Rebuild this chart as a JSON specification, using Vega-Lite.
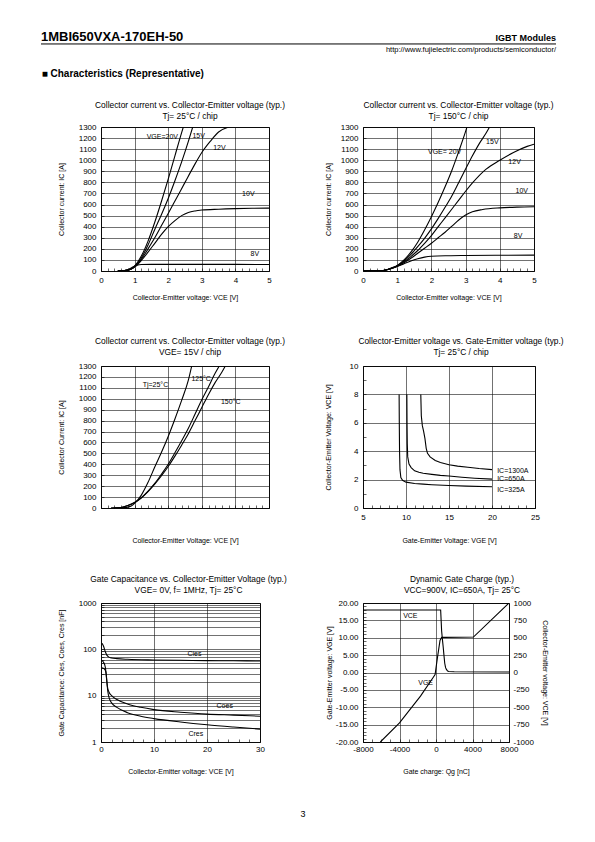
{
  "$schema": "https://vega.github.io/schema/vega-lite/v6.json",
  "padding": {"left": 40, "top": 28, "right": 0, "bottom": 0},
  "autosize": {"type": "pad"},
  "config": {
    "font": "Liberation Sans",
    "view": {"stroke": "#000", "strokeWidth": 1},
    "axis": {"domain": false, "labelFont": "Liberation Sans", "labelFontSize": 8, "labelColor": "#000", "titleFont": "Liberation Sans", "titleFontSize": 7, "titleFontWeight": "normal", "titleColor": "#000", "gridColor": "#111", "gridWidth": 0.6, "tickColor": "#000", "tickSize": -3, "tickWidth": 0.6, "labelFlush": false, "labelOverlap": false, "labelPadding": 8},
    "axisX": {"titlePadding": 9},
    "axisY": {"titlePadding": 14},
    "title": {"font": "Liberation Sans", "fontSize": 8.4, "fontWeight": "normal", "color": "#000", "lineHeight": 11},
    "line": {"color": "#000", "strokeWidth": 1.1},
    "text": {"font": "Liberation Sans", "fontSize": 7, "color": "#000"}
  },
  "title": {"text": "3", "orient": "bottom", "anchor": "middle", "frame": "bounds", "offset": 35, "fontSize": 9},
  "spacing": 13,
  "datasets": {
    "p1": [
      {"s":"20V","x":0.5,"y":0},{"s":"20V","x":0.7,"y":3},{"s":"20V","x":0.9,"y":20},{"s":"20V","x":1.0,"y":45},{"s":"20V","x":1.2,"y":135},{"s":"20V","x":1.4,"y":270},{"s":"20V","x":1.6,"y":440},{"s":"20V","x":1.8,"y":630},{"s":"20V","x":2.0,"y":830},{"s":"20V","x":2.2,"y":1040},{"s":"20V","x":2.4,"y":1250},{"s":"20V","x":2.45,"y":1300},
      {"s":"15V","x":0.5,"y":0},{"s":"15V","x":0.7,"y":3},{"s":"15V","x":0.9,"y":18},{"s":"15V","x":1.0,"y":42},{"s":"15V","x":1.2,"y":118},{"s":"15V","x":1.4,"y":235},{"s":"15V","x":1.6,"y":375},{"s":"15V","x":1.8,"y":510},{"s":"15V","x":2.0,"y":655},{"s":"15V","x":2.2,"y":815},{"s":"15V","x":2.4,"y":985},{"s":"15V","x":2.6,"y":1170},{"s":"15V","x":2.73,"y":1300},
      {"s":"12V","x":0.5,"y":0},{"s":"12V","x":0.7,"y":3},{"s":"12V","x":0.9,"y":18},{"s":"12V","x":1.0,"y":38},{"s":"12V","x":1.2,"y":105},{"s":"12V","x":1.4,"y":200},{"s":"12V","x":1.6,"y":300},{"s":"12V","x":1.8,"y":410},{"s":"12V","x":2.0,"y":520},{"s":"12V","x":2.25,"y":660},{"s":"12V","x":2.5,"y":800},{"s":"12V","x":2.75,"y":940},{"s":"12V","x":3.0,"y":1070},{"s":"12V","x":3.25,"y":1170},{"s":"12V","x":3.5,"y":1255},{"s":"12V","x":3.8,"y":1300},
      {"s":"10V","x":0.5,"y":0},{"s":"10V","x":0.7,"y":3},{"s":"10V","x":0.9,"y":17},{"s":"10V","x":1.0,"y":35},{"s":"10V","x":1.2,"y":95},{"s":"10V","x":1.4,"y":170},{"s":"10V","x":1.6,"y":250},{"s":"10V","x":1.8,"y":330},{"s":"10V","x":2.0,"y":400},{"s":"10V","x":2.2,"y":455},{"s":"10V","x":2.4,"y":500},{"s":"10V","x":2.6,"y":528},{"s":"10V","x":2.8,"y":542},{"s":"10V","x":3.0,"y":550},{"s":"10V","x":3.5,"y":558},{"s":"10V","x":4.0,"y":563},{"s":"10V","x":4.5,"y":566},{"s":"10V","x":5.0,"y":568},
      {"s":"8V","x":0.5,"y":0},{"s":"8V","x":0.7,"y":5},{"s":"8V","x":0.9,"y":28},{"s":"8V","x":1.0,"y":45},{"s":"8V","x":1.1,"y":55},{"s":"8V","x":1.2,"y":58},{"s":"8V","x":1.5,"y":60},{"s":"8V","x":2.0,"y":60},{"s":"8V","x":3.0,"y":60},{"s":"8V","x":4.0,"y":60},{"s":"8V","x":5.0,"y":58}
    ],
    "p1lab": [
      {"t":"VGE=20V","x":1.36,"y":1207},{"t":"15V","x":2.72,"y":1219},{"t":"12V","x":3.34,"y":1113},{"t":"10V","x":4.2,"y":696},{"t":"8V","x":4.45,"y":154}
    ],
    "p2": [
      {"s":"20V","x":0,"y":0},{"s":"20V","x":0.5,"y":3},{"s":"20V","x":0.7,"y":12},{"s":"20V","x":0.9,"y":35},{"s":"20V","x":1.0,"y":50},{"s":"20V","x":1.2,"y":100},{"s":"20V","x":1.4,"y":170},{"s":"20V","x":1.6,"y":260},{"s":"20V","x":1.8,"y":370},{"s":"20V","x":2.0,"y":490},{"s":"20V","x":2.2,"y":620},{"s":"20V","x":2.4,"y":760},{"s":"20V","x":2.6,"y":910},{"s":"20V","x":2.8,"y":1080},{"s":"20V","x":3.0,"y":1260},{"s":"20V","x":3.04,"y":1300},
      {"s":"15V","x":0,"y":0},{"s":"15V","x":0.5,"y":3},{"s":"15V","x":0.7,"y":12},{"s":"15V","x":0.9,"y":33},{"s":"15V","x":1.0,"y":48},{"s":"15V","x":1.2,"y":90},{"s":"15V","x":1.4,"y":150},{"s":"15V","x":1.6,"y":220},{"s":"15V","x":1.8,"y":295},{"s":"15V","x":2.0,"y":380},{"s":"15V","x":2.2,"y":475},{"s":"15V","x":2.4,"y":575},{"s":"15V","x":2.6,"y":680},{"s":"15V","x":2.8,"y":800},{"s":"15V","x":3.0,"y":920},{"s":"15V","x":3.2,"y":1040},{"s":"15V","x":3.4,"y":1150},{"s":"15V","x":3.6,"y":1245},{"s":"15V","x":3.7,"y":1300},
      {"s":"12V","x":0,"y":0},{"s":"12V","x":0.5,"y":3},{"s":"12V","x":0.7,"y":12},{"s":"12V","x":0.9,"y":32},{"s":"12V","x":1.0,"y":45},{"s":"12V","x":1.2,"y":82},{"s":"12V","x":1.4,"y":130},{"s":"12V","x":1.6,"y":185},{"s":"12V","x":1.8,"y":250},{"s":"12V","x":2.0,"y":320},{"s":"12V","x":2.2,"y":400},{"s":"12V","x":2.4,"y":480},{"s":"12V","x":2.6,"y":560},{"s":"12V","x":2.8,"y":640},{"s":"12V","x":3.0,"y":720},{"s":"12V","x":3.2,"y":795},{"s":"12V","x":3.6,"y":920},{"s":"12V","x":4.0,"y":1000},{"s":"12V","x":4.4,"y":1070},{"s":"12V","x":4.8,"y":1125},{"s":"12V","x":5.0,"y":1145},
      {"s":"10V","x":0,"y":0},{"s":"10V","x":0.5,"y":3},{"s":"10V","x":0.7,"y":12},{"s":"10V","x":0.9,"y":30},{"s":"10V","x":1.0,"y":42},{"s":"10V","x":1.2,"y":75},{"s":"10V","x":1.4,"y":115},{"s":"10V","x":1.6,"y":160},{"s":"10V","x":1.8,"y":205},{"s":"10V","x":2.0,"y":250},{"s":"10V","x":2.2,"y":300},{"s":"10V","x":2.4,"y":350},{"s":"10V","x":2.6,"y":405},{"s":"10V","x":2.8,"y":460},{"s":"10V","x":3.0,"y":505},{"s":"10V","x":3.2,"y":535},{"s":"10V","x":3.5,"y":555},{"s":"10V","x":4.0,"y":570},{"s":"10V","x":4.5,"y":577},{"s":"10V","x":5.0,"y":580},
      {"s":"8V","x":0,"y":0},{"s":"8V","x":0.5,"y":3},{"s":"8V","x":0.7,"y":12},{"s":"8V","x":0.9,"y":30},{"s":"8V","x":1.0,"y":40},{"s":"8V","x":1.2,"y":65},{"s":"8V","x":1.4,"y":90},{"s":"8V","x":1.6,"y":110},{"s":"8V","x":1.8,"y":125},{"s":"8V","x":2.0,"y":133},{"s":"8V","x":2.5,"y":138},{"s":"8V","x":3.0,"y":140},{"s":"8V","x":4.0,"y":142},{"s":"8V","x":5.0,"y":143}
    ],
    "p2lab": [
      {"t":"VGE= 20V","x":1.9,"y":1076},{"t":"15V","x":3.6,"y":1168},{"t":"12V","x":4.25,"y":983},{"t":"10V","x":4.46,"y":722},{"t":"8V","x":4.41,"y":313}
    ],
    "p3": [
      {"s":"25","x":0.4,"y":0},{"s":"25","x":0.7,"y":3},{"s":"25","x":0.9,"y":18},{"s":"25","x":1.0,"y":42},{"s":"25","x":1.2,"y":118},{"s":"25","x":1.4,"y":235},{"s":"25","x":1.6,"y":375},{"s":"25","x":1.8,"y":510},{"s":"25","x":2.0,"y":655},{"s":"25","x":2.2,"y":815},{"s":"25","x":2.4,"y":985},{"s":"25","x":2.6,"y":1170},{"s":"25","x":2.7,"y":1300},
      {"s":"125","x":0.3,"y":0},{"s":"125","x":0.6,"y":5},{"s":"125","x":0.8,"y":22},{"s":"125","x":1.0,"y":50},{"s":"125","x":1.2,"y":95},{"s":"125","x":1.4,"y":155},{"s":"125","x":1.6,"y":225},{"s":"125","x":1.8,"y":310},{"s":"125","x":2.0,"y":400},{"s":"125","x":2.2,"y":505},{"s":"125","x":2.4,"y":615},{"s":"125","x":2.6,"y":730},{"s":"125","x":2.8,"y":860},{"s":"125","x":3.0,"y":990},{"s":"125","x":3.2,"y":1110},{"s":"125","x":3.4,"y":1235},{"s":"125","x":3.52,"y":1300},
      {"s":"150","x":0.3,"y":0},{"s":"150","x":0.6,"y":5},{"s":"150","x":0.8,"y":22},{"s":"150","x":1.0,"y":50},{"s":"150","x":1.2,"y":92},{"s":"150","x":1.4,"y":150},{"s":"150","x":1.6,"y":218},{"s":"150","x":1.8,"y":295},{"s":"150","x":2.0,"y":380},{"s":"150","x":2.2,"y":475},{"s":"150","x":2.4,"y":575},{"s":"150","x":2.6,"y":680},{"s":"150","x":2.8,"y":800},{"s":"150","x":3.0,"y":920},{"s":"150","x":3.2,"y":1040},{"s":"150","x":3.4,"y":1150},{"s":"150","x":3.6,"y":1245},{"s":"150","x":3.7,"y":1300}
    ],
    "p3lab": [
      {"t":"Tj=25°C","x":1.24,"y":1124},{"t":"125°C","x":2.69,"y":1179},{"t":"150°C","x":3.57,"y":967}
    ],
    "p4": [
      {"s":"1300","x":11.72,"y":8},{"s":"1300","x":11.78,"y":6.5},{"s":"1300","x":11.9,"y":5.8},{"s":"1300","x":12.05,"y":5.4},{"s":"1300","x":12.2,"y":4.9},{"s":"1300","x":12.35,"y":4.2},{"s":"1300","x":12.5,"y":3.85},{"s":"1300","x":12.8,"y":3.6},{"s":"1300","x":13.4,"y":3.35},{"s":"1300","x":14,"y":3.2},{"s":"1300","x":15,"y":3.05},{"s":"1300","x":16,"y":2.95},{"s":"1300","x":17.2,"y":2.87},{"s":"1300","x":18.5,"y":2.78},{"s":"1300","x":20,"y":2.7},
      {"s":"650","x":10.1,"y":8},{"s":"650","x":10.12,"y":6},{"s":"650","x":10.15,"y":4.5},{"s":"650","x":10.2,"y":3.6},{"s":"650","x":10.35,"y":3.1},{"s":"650","x":10.6,"y":2.85},{"s":"650","x":11,"y":2.62},{"s":"650","x":11.5,"y":2.52},{"s":"650","x":12,"y":2.45},{"s":"650","x":13,"y":2.37},{"s":"650","x":14,"y":2.3},{"s":"650","x":15,"y":2.25},{"s":"650","x":16.5,"y":2.17},{"s":"650","x":18,"y":2.1},{"s":"650","x":20,"y":2.03},
      {"s":"325","x":9.2,"y":8},{"s":"325","x":9.22,"y":6},{"s":"325","x":9.25,"y":4},{"s":"325","x":9.3,"y":2.7},{"s":"325","x":9.4,"y":2.15},{"s":"325","x":9.6,"y":1.95},{"s":"325","x":10,"y":1.82},{"s":"325","x":11,"y":1.73},{"s":"325","x":12,"y":1.68},{"s":"325","x":13,"y":1.64},{"s":"325","x":15,"y":1.58},{"s":"325","x":17,"y":1.54},{"s":"325","x":20,"y":1.5}
    ],
    "p4lab": [
      {"t":"IC=1300A","x":20.6,"y":2.63},{"t":"IC=650A","x":20.6,"y":2.07},{"t":"IC=325A","x":20.6,"y":1.24}
    ],
    "p5": [
      {"s":"Cies","x":0.2,"y":135},{"s":"Cies","x":0.5,"y":115},{"s":"Cies","x":0.8,"y":90},{"s":"Cies","x":1.1,"y":75},{"s":"Cies","x":1.5,"y":68},{"s":"Cies","x":2,"y":65},{"s":"Cies","x":3,"y":63},{"s":"Cies","x":5,"y":61},{"s":"Cies","x":10,"y":59},{"s":"Cies","x":15,"y":58},{"s":"Cies","x":20,"y":57},{"s":"Cies","x":25,"y":56.5},{"s":"Cies","x":30,"y":56},
      {"s":"Coes","x":0.2,"y":58},{"s":"Coes","x":0.5,"y":52},{"s":"Coes","x":0.8,"y":42},{"s":"Coes","x":1.0,"y":28},{"s":"Coes","x":1.2,"y":16},{"s":"Coes","x":1.5,"y":12},{"s":"Coes","x":2,"y":10},{"s":"Coes","x":3,"y":8.3},{"s":"Coes","x":5,"y":6.6},{"s":"Coes","x":7.5,"y":5.6},{"s":"Coes","x":10,"y":5.0},{"s":"Coes","x":15,"y":4.4},{"s":"Coes","x":20,"y":4.0},{"s":"Coes","x":25,"y":3.8},{"s":"Coes","x":30,"y":3.6},
      {"s":"Cres","x":0.2,"y":40},{"s":"Cres","x":0.6,"y":38},{"s":"Cres","x":0.9,"y":33},{"s":"Cres","x":1.1,"y":20},{"s":"Cres","x":1.3,"y":12},{"s":"Cres","x":1.6,"y":8.5},{"s":"Cres","x":2,"y":7},{"s":"Cres","x":3,"y":5.6},{"s":"Cres","x":5,"y":4.3},{"s":"Cres","x":7.5,"y":3.6},{"s":"Cres","x":10,"y":3.2},{"s":"Cres","x":15,"y":2.7},{"s":"Cres","x":20,"y":2.35},{"s":"Cres","x":25,"y":2.1},{"s":"Cres","x":30,"y":1.9}
    ],
    "p5lab": [
      {"t":"Cies","x":16.3,"y":80},{"t":"Coes","x":21.8,"y":6.1},{"t":"Cres","x":16.5,"y":1.5}
    ],
    "p6vge": [
      {"x":-6100,"y":-20},{"x":-4000,"y":-14.5},{"x":-1700,"y":-6.8},{"x":-350,"y":-1.6},{"x":-100,"y":-0.6},{"x":170,"y":4.5},{"x":440,"y":9.2},{"x":620,"y":10.1},{"x":1000,"y":10.1},{"x":4100,"y":10.2},{"x":8000,"y":20}
    ],
    "p6vce": [
      {"x":-8000,"y":900},{"x":510,"y":900},{"x":615,"y":600},{"x":700,"y":480},{"x":786,"y":370},{"x":870,"y":250},{"x":957,"y":133},{"x":1050,"y":70},{"x":1128,"y":48},{"x":1250,"y":24},{"x":1367,"y":15},{"x":2000,"y":10},{"x":8000,"y":8}
    ],
    "p6lab": [
      {"t":"VCE","x":-3600,"y":16.2},{"t":"VGE","x":-1950,"y":-2.9}
    ]
  },
  "vconcat": [
    {
      "width": 455,
      "height": 28,
      "view": {"stroke": null},
      "layer": [
        {
          "data": {"values": [{"t": "1MBI650VXA-170EH-50"}]},
          "mark": {"type": "text", "align": "left", "baseline": "alphabetic", "fontSize": 13, "fontWeight": "bold"},
          "encoding": {
            "text": {"field": "t"},
            "x": {"datum": 0, "type": "quantitative", "scale": {"domain": [0, 1], "range": [-60, 455]}, "axis": null},
            "y": {"datum": 0.46, "type": "quantitative", "scale": {"domain": [0, 1], "reverse": true}, "axis": null}
          }
        },
        {
          "data": {"values": [{"t": "IGBT Modules"}]},
          "mark": {"type": "text", "align": "right", "baseline": "alphabetic", "fontSize": 9, "fontWeight": "bold"},
          "encoding": {
            "text": {"field": "t"},
            "x": {"datum": 1, "type": "quantitative"},
            "y": {"datum": 0.46, "type": "quantitative"}
          }
        },
        {
          "data": {"values": [{"t": "http://www.fujielectric.com/products/semiconductor/"}]},
          "mark": {"type": "text", "align": "right", "baseline": "alphabetic", "fontSize": 7.5},
          "encoding": {
            "text": {"field": "t"},
            "x": {"datum": 1, "type": "quantitative"},
            "y": {"datum": 0.86, "type": "quantitative"}
          }
        },
        {
          "data": {"values": [{"t": "rule"}]},
          "mark": {"type": "rule", "color": "#000", "strokeWidth": 1},
          "encoding": {
            "x": {"datum": 0, "type": "quantitative"},
            "x2": {"datum": 1},
            "y": {"datum": 0.57, "type": "quantitative"}
          }
        }
      ]
    },
    {
      "title": {"text": "■ Characteristics (Representative)", "anchor": "start", "frame": "bounds", "dx": -15, "fontSize": 10, "fontWeight": "bold", "offset": 21},
      "columns": 2,
      "bounds": "flush",
      "align": "each",
      "spacing": {"row": 95, "column": 94},
      "concat": [
        {
          "width": 168, "height": 144,
          "title": {"text": ["Collector current vs. Collector-Emitter voltage (typ.)", "Tj= 25°C / chip"], "dx": 5, "offset": 3},
          "layer": [
            {
              "data": {"name": "p1"},
              "mark": {"type": "line", "interpolate": "monotone", "clip": true},
              "encoding": {
                "x": {"field": "x", "type": "quantitative", "scale": {"domain": [0, 5], "nice": false},
                  "axis": {"title": "Collector-Emitter voltage: VCE [V]", "labelOverlap": false, "tickCount": 1000, "values": [0,0.2,0.4,0.6,0.8,1,1.2,1.4,1.6,1.8,2,2.2,2.4,2.6,2.8,3,3.2,3.4,3.6,3.8,4,4.2,4.4,4.6,4.8,5], "labelExpr": "abs(datum.value - round(datum.value)) > 0.01 ? '' : format(round(datum.value), 'd')", "gridOpacity": {"condition": {"test": "datum.value % 1 == 0", "value": 1}, "value": 0}}},
                "y": {"field": "y", "type": "quantitative", "scale": {"domain": [0, 1300], "nice": false},
                  "axis": {"title": "Collector current: IC [A]", "format": "d", "labelOverlap": false, "tickCount": 1000, "values": [0,100,200,300,400,500,600,700,800,900,1000,1100,1200,1300]}},
                "detail": {"field": "s"}
              }
            },
            {
              "data": {"name": "p1lab"},
              "mark": {"type": "text", "align": "left", "baseline": "middle"},
              "encoding": {
                "x": {"field": "x", "type": "quantitative"},
                "y": {"field": "y", "type": "quantitative"},
                "text": {"field": "t"}
              }
            }
          ]
        },
        {
          "width": 171, "height": 144,
          "title": {"text": ["Collector current vs. Collector-Emitter voltage (typ.)", "Tj= 150°C / chip"], "dx": 10, "offset": 3},
          "layer": [
            {
              "data": {"name": "p2"},
              "mark": {"type": "line", "interpolate": "monotone", "clip": true},
              "encoding": {
                "x": {"field": "x", "type": "quantitative", "scale": {"domain": [0, 5], "nice": false},
                  "axis": {"title": "Collector-Emitter voltage: VCE [V]", "labelOverlap": false, "tickCount": 1000, "values": [0,0.2,0.4,0.6,0.8,1,1.2,1.4,1.6,1.8,2,2.2,2.4,2.6,2.8,3,3.2,3.4,3.6,3.8,4,4.2,4.4,4.6,4.8,5], "labelExpr": "abs(datum.value - round(datum.value)) > 0.01 ? '' : format(round(datum.value), 'd')", "gridOpacity": {"condition": {"test": "datum.value % 1 == 0", "value": 1}, "value": 0}}},
                "y": {"field": "y", "type": "quantitative", "scale": {"domain": [0, 1300], "nice": false},
                  "axis": {"title": "Collector current: IC [A]", "format": "d", "labelOverlap": false, "tickCount": 1000, "titlePadding": 9, "values": [0,100,200,300,400,500,600,700,800,900,1000,1100,1200,1300]}},
                "detail": {"field": "s"}
              }
            },
            {
              "data": {"name": "p2lab"},
              "mark": {"type": "text", "align": "left", "baseline": "middle"},
              "encoding": {
                "x": {"field": "x", "type": "quantitative"},
                "y": {"field": "y", "type": "quantitative"},
                "text": {"field": "t"}
              }
            }
          ]
        },
        {
          "width": 168, "height": 142,
          "title": {"text": ["Collector current vs. Collector-Emitter voltage (typ.)", "VGE= 15V / chip"], "dx": 5, "offset": 6},
          "layer": [
            {
              "data": {"name": "p3"},
              "mark": {"type": "line", "interpolate": "monotone", "clip": true},
              "encoding": {
                "x": {"field": "x", "type": "quantitative", "scale": {"domain": [0, 5], "nice": false},
                  "axis": {"title": "Collector-Emitter Voltage: VCE [V]", "labels": false, "tickCount": 1000, "titlePadding": 28, "values": [0,0.2,0.4,0.6,0.8,1,1.2,1.4,1.6,1.8,2,2.2,2.4,2.6,2.8,3,3.2,3.4,3.6,3.8,4,4.2,4.4,4.6,4.8,5], "gridOpacity": {"condition": {"test": "datum.value % 1 == 0", "value": 1}, "value": 0}}},
                "y": {"field": "y", "type": "quantitative", "scale": {"domain": [0, 1300], "nice": false},
                  "axis": {"title": "Collector Current: IC [A]", "format": "d", "labelOverlap": false, "tickCount": 1000, "values": [0,100,200,300,400,500,600,700,800,900,1000,1100,1200,1300]}},
                "detail": {"field": "s"}
              }
            },
            {
              "data": {"name": "p3lab"},
              "mark": {"type": "text", "align": "left", "baseline": "middle"},
              "encoding": {
                "x": {"field": "x", "type": "quantitative"},
                "y": {"field": "y", "type": "quantitative"},
                "text": {"field": "t"}
              }
            }
          ]
        },
        {
          "width": 172, "height": 142,
          "title": {"text": ["Collector-Emitter voltage  vs. Gate-Emitter voltage (typ.)", "Tj= 25°C / chip"], "dx": 12, "offset": 6},
          "layer": [
            {
              "data": {"name": "p4"},
              "mark": {"type": "line", "clip": true},
              "encoding": {
                "x": {"field": "x", "type": "quantitative", "scale": {"domain": [5, 25], "nice": false},
                  "axis": {"title": "Gate-Emitter Voltage: VGE [V]", "format": "d", "labelOverlap": false, "tickCount": 1000, "titlePadding": 15, "values": [5,6,7,8,9,10,11,12,13,14,15,16,17,18,19,20,21,22,23,24,25], "labelExpr": "datum.value % 5 ? '' : datum.label", "gridOpacity": {"condition": {"test": "datum.value % 5 == 0", "value": 1}, "value": 0}}},
                "y": {"field": "y", "type": "quantitative", "scale": {"domain": [0, 10], "nice": false},
                  "axis": {"title": "Collector-Emitter Voltage: VCE [V]", "format": "d", "labelOverlap": false, "tickCount": 1000, "titlePadding": 18, "values": [0,0.5,1,1.5,2,2.5,3,3.5,4,4.5,5,5.5,6,6.5,7,7.5,8,8.5,9,9.5,10], "labelExpr": "datum.value % 2 ? '' : datum.label", "gridOpacity": {"condition": {"test": "datum.value % 2 == 0", "value": 1}, "value": 0}}},
                "detail": {"field": "s"}
              }
            },
            {
              "data": {"name": "p4lab"},
              "mark": {"type": "text", "align": "left", "baseline": "middle"},
              "encoding": {
                "x": {"field": "x", "type": "quantitative"},
                "y": {"field": "y", "type": "quantitative"},
                "text": {"field": "t"}
              }
            }
          ]
        },
        {
          "width": 159, "height": 139,
          "title": {"text": ["Gate Capacitance vs. Collector-Emitter Voltage  (typ.)", "VGE= 0V,  f= 1MHz, Tj= 25°C"], "dx": 8, "offset": 5},
          "layer": [
            {
              "data": {"name": "p5"},
              "mark": {"type": "line", "interpolate": "monotone", "clip": true},
              "encoding": {
                "x": {"field": "x", "type": "quantitative", "scale": {"domain": [0, 30], "nice": false},
                  "axis": {"title": "Collector-Emitter voltage: VCE [V]", "format": "d", "labelOverlap": false, "tickCount": 1000, "labelPadding": 6, "titlePadding": 14, "values": [0,2,4,6,8,10,12,14,16,18,20,22,24,26,28,30], "labelExpr": "datum.value % 10 ? '' : datum.label", "gridOpacity": {"condition": {"test": "datum.value % 10 == 0", "value": 1}, "value": 0}}},
                "y": {"field": "y", "type": "quantitative", "scale": {"type": "log", "domain": [1, 1000], "nice": false},
                  "axis": {"title": "Gate Capacitance: Cies, Coes, Cres [nF]", "format": "d", "labelOverlap": false, "tickCount": 1000, "values": [1,2,3,4,5,6,7,8,9,10,20,30,40,50,60,70,80,90,100,200,300,400,500,600,700,800,900,1000], "labelExpr": "(datum.value == 1 || datum.value == 10 || datum.value == 100 || datum.value == 1000) ? datum.label : ''"}},
                "detail": {"field": "s"}
              }
            },
            {
              "data": {"name": "p5lab"},
              "mark": {"type": "text", "align": "left", "baseline": "middle"},
              "encoding": {
                "x": {"field": "x", "type": "quantitative"},
                "y": {"field": "y", "type": "quantitative"},
                "text": {"field": "t"}
              }
            }
          ]
        },
        {
          "width": 146, "height": 139,
          "title": {"text": ["Dynamic Gate Charge (typ.)", "VCC=900V, IC=650A, Tj= 25°C"], "dx": 26, "offset": 5},
          "resolve": {"scale": {"y": "independent"}},
          "layer": [
            {
              "data": {"name": "p6vge"},
              "mark": {"type": "line", "clip": true},
              "encoding": {
                "x": {"field": "x", "type": "quantitative", "scale": {"domain": [-8000, 8000], "nice": false},
                  "axis": {"title": "Gate charge: Qg [nC]", "format": "d", "labelOverlap": false, "tickCount": 1000, "labelPadding": 6, "titlePadding": 14, "values": [-8000,-7000,-6000,-5000,-4000,-3000,-2000,-1000,0,1000,2000,3000,4000,5000,6000,7000,8000], "labelExpr": "datum.value % 4000 ? '' : replace(datum.label, '−', '-')", "gridOpacity": {"condition": {"test": "datum.value % 4000 == 0", "value": 1}, "value": 0}}},
                "y": {"field": "y", "type": "quantitative", "scale": {"domain": [-20, 20], "nice": false},
                  "axis": {"title": "Gate-Emitter voltage:  VGE [V]", "format": ".2f", "labelOverlap": false, "tickCount": 1000, "titlePadding": 3, "values": [-20,-19,-18,-17,-16,-15,-14,-13,-12,-11,-10,-9,-8,-7,-6,-5,-4,-3,-2,-1,0,1,2,3,4,5,6,7,8,9,10,11,12,13,14,15,16,17,18,19,20], "labelExpr": "datum.value % 5 ? '' : replace(datum.label, '−', '-')", "gridOpacity": {"condition": {"test": "datum.value % 5 == 0", "value": 1}, "value": 0}}}
              }
            },
            {
              "data": {"name": "p6vce"},
              "mark": {"type": "line", "clip": true},
              "encoding": {
                "x": {"field": "x", "type": "quantitative"},
                "y": {"field": "y", "type": "quantitative", "scale": {"domain": [-1000, 1000], "nice": false},
                  "axis": {"orient": "right", "title": "Collector-Emitter voltage: VCE [V]", "format": "d", "labelOverlap": false, "tickCount": 1000, "grid": false, "ticks": false, "titlePadding": 8, "labelPadding": 4, "values": [-1000,-750,-500,-250,0,250,500,750,1000], "labelExpr": "replace(datum.label, '−', '-')"}}
              }
            },
            {
              "data": {"name": "p6lab"},
              "mark": {"type": "text", "align": "left", "baseline": "middle"},
              "encoding": {
                "x": {"field": "x", "type": "quantitative"},
                "y": {"field": "y", "type": "quantitative", "scale": {"domain": [-20, 20], "nice": false}, "axis": null},
                "text": {"field": "t"}
              }
            }
          ]
        }
      ]
    }
  ]
}
